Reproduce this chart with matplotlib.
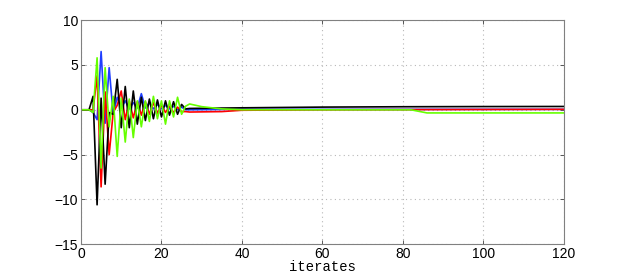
import matplotlib
matplotlib.use("Agg")
import matplotlib.pyplot as plt

plt.rcParams['font.family'] = ['Liberation Sans', 'DejaVu Sans']

# iterations 0..27 (oscillating part)
it_head = list(range(28))

blue_head = [0, 0, 0, -0.3, -1.1, 6.5, -1.5, 4.7, -0.5, 1.4, 0.2, 1.0, 0.1, 0.8,
             0.2, 1.8, 0.2, 0.8, 0.1, 0.6, 0.1, 0.5, 0.1, 0.4, 0.0, 0.3, 0.0, 0.0]
red_head = [0, 0, 0, 0, 3.8, -8.6, 2.0, -5.0, -0.3, 0.5, 2.1, -1.1, 1.0, -0.9,
            0.9, -0.6, 0.9, -0.5, 0.8, -0.4, 0.5, -0.3, 0.4, -0.3, 0.3, -0.2, -0.2, -0.25]
black_head = [0, 0, 0, 1.5, -10.6, 1.3, -8.3, -0.3, -0.5, 3.4, -2.0, 2.6, -2.0, 2.1,
              -1.6, 1.4, -1.2, 1.2, -1.0, 1.1, -0.8, 1.0, -0.6, 0.9, -0.5, 0.6, 0.1, 0.15]
green_head = [0, 0, 0, -0.3, 5.8, -6.5, 4.7, -1.9, 1.5, -5.2, 1.3, -3.6, 1.2, -3.1,
              1.0, -1.9, 1.0, -1.3, 1.5, -1.0, 1.0, -1.6, 1.0, -0.8, 1.4, -0.5, 0.4, 0.65]

# slow tails
blue_tail_x = [40, 120]
blue_tail = [0.05, 0.05]
red_tail_x = [35, 40, 60, 120]
red_tail = [-0.2, -0.05, 0.0, 0.05]
black_tail_x = [40, 60, 80, 100, 120]
black_tail = [0.22, 0.3, 0.34, 0.36, 0.37]
green_tail_x = [30, 35, 40, 82, 86, 120]
green_tail = [0.35, 0.1, 0.0, 0.0, -0.35, -0.35]

fig = plt.figure(figsize=(6.23, 2.76), dpi=100)
ax = fig.add_axes([0.130, 0.115, 0.775, 0.812])

lw = 1.2
ax.plot(it_head + blue_tail_x, blue_head + blue_tail, color='#1f3fff', lw=lw)
ax.plot(it_head + red_tail_x, red_head + red_tail, color='#ff0000', lw=lw)
ax.plot(it_head + black_tail_x, black_head + black_tail, color='#000000', lw=lw)
ax.plot(it_head + green_tail_x, green_head + green_tail, color='#66ff00', lw=lw)

ax.set_xlim(0, 120)
ax.set_ylim(-15, 10)
ax.set_xticks([0, 20, 40, 60, 80, 100, 120])
ax.set_yticks([-15, -10, -5, 0, 5, 10])
ax.grid(True, linestyle=(0, (1, 3)), color='#b8b8b8', linewidth=0.8)
for s in ax.spines.values():
    s.set_color('#808080')
ax.tick_params(direction='in', length=3, width=0.6, color='#404040',
               labelsize=10, pad=2, top=True, right=True)
ax.set_xlabel('iterates', family=['Liberation Mono', 'DejaVu Sans Mono'],
              fontsize=10, labelpad=-1)

fig.savefig('out.png', dpi=100)
